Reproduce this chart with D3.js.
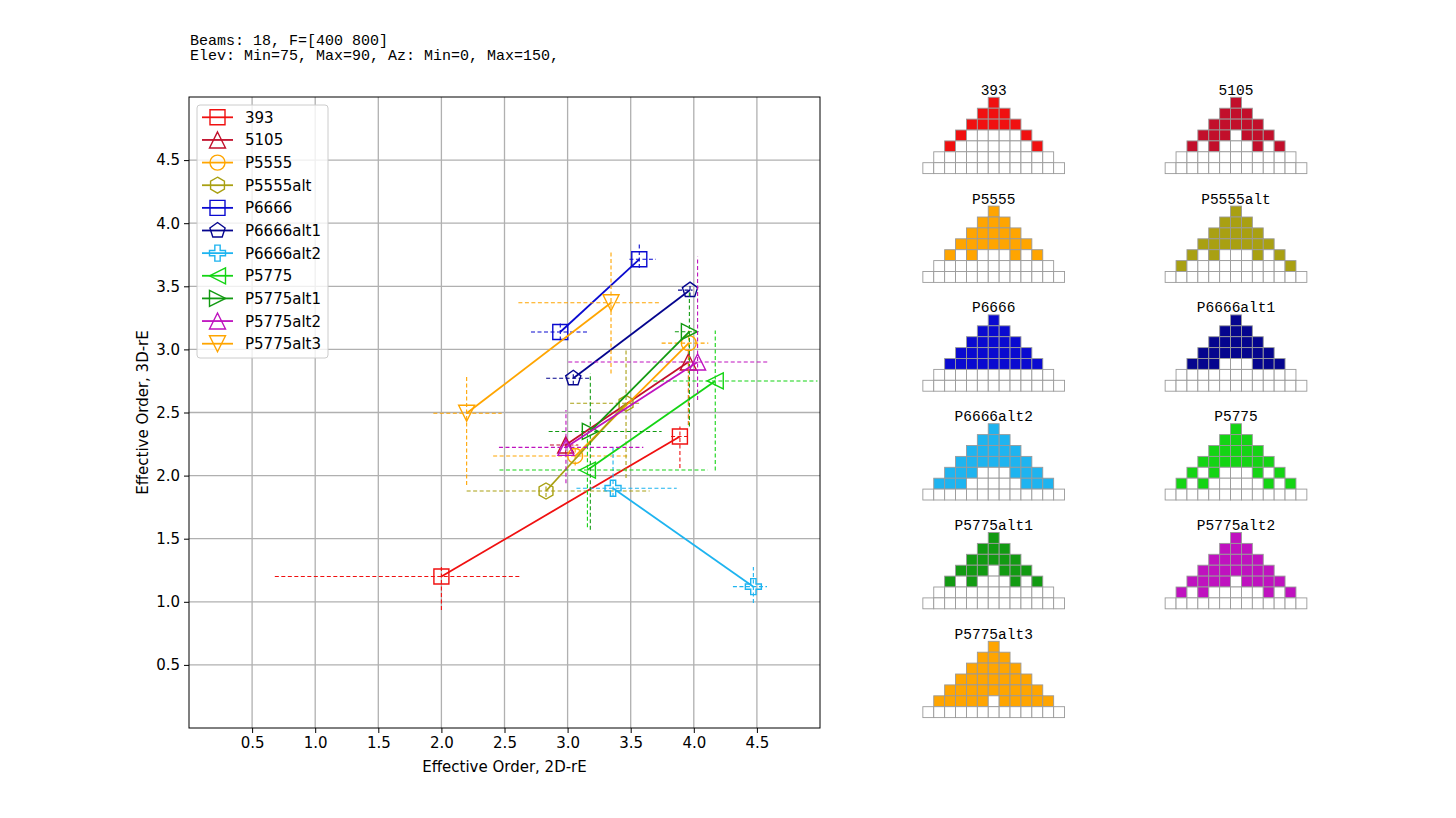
<!DOCTYPE html>
<html>
<head>
<meta charset="utf-8">
<script src="https://cdn.jsdelivr.net/npm/d3@7"></script>
<style>
  body { margin: 0; background: #fff; }
  svg text { font-family: "DejaVu Sans", sans-serif; }
  .mono { font-family: "Liberation Mono", "DejaVu Sans Mono", monospace !important; }
</style>
</head>
<body>
<svg id="chart" width="1456" height="818"></svg>
<script>
// layouts, in legend order
const layouts = ["393", "5105", "P5555", "P5555alt", "P6666", "P6666alt1",
  "P6666alt2", "P5775", "P5775alt1", "P5775alt2", "P5775alt3"];
const markers = ["s", "^", "o", "h", "s", "p", "P", "<", ">", "^", "v"];
const palette = ["#f01010", "#c20f2b", "#ffa500", "#a9a012", "#0a0ad0", "#05058e",
  "#1eb4f0", "#14d414", "#129a12", "#bf12bf", "#ffa500"];

// first point (2D-rE, 3D-rE) and its min/max spread
const order2dA = [2.00, 2.985, 3.06, 2.829, 2.942, 3.045, 3.36, 3.157, 3.18, 2.987, 2.20];
const order3dA = [1.20, 2.243, 2.155, 1.878, 3.138, 2.771, 1.90, 2.044, 2.35, 2.224, 2.494];
const range2dA = [[0.68, 2.63], [2.86, 3.085], [2.41, 3.49], [2.20, 3.65], [2.71, 3.16], [2.83, 3.19],
  [3.07, 3.865], [2.46, 4.11], [2.85, 3.745], [2.456, 3.60], [1.936, 2.478]];
const range3dA = [[0.935, 1.275], [2.17, 2.32], [2.08, 2.24], [1.83, 1.93], [3.07, 3.21], [2.72, 2.82],
  [1.83, 2.23], [1.59, 2.34], [1.57, 2.81], [1.94, 2.52], [1.925, 2.79]];

// second point (2D-rE, 3D-rE) and its min/max spread
const order2dB = [3.89, 3.957, 3.96, 3.463, 3.568, 3.97, 4.472, 4.17, 3.965, 4.03, 3.344];
const order3dB = [2.31, 2.90, 3.05, 2.573, 3.714, 3.47, 1.12, 2.75, 3.14, 2.90, 3.37];
const range2dB = [[3.82, 3.95], [3.90, 4.00], [3.745, 4.115], [3.02, 3.57], [3.49, 3.70], [3.875, 3.99],
  [4.31, 4.58], [3.68, 4.98], [3.85, 4.02], [3.005, 4.59], [2.61, 3.73]];
const range3dB = [[2.06, 2.39], [2.40, 3.00], [2.40, 3.15], [1.98, 3.00], [3.645, 3.85], [3.42, 3.52],
  [0.99, 1.275], [2.04, 3.15], [2.39, 3.45], [2.60, 3.735], [2.81, 3.77]];

const tickValues = [0.5, 1.0, 1.5, 2.0, 2.5, 3.0, 3.5, 4.0, 4.5];

// speaker layout rows (1,3,5,...,13 cells), 1 = filled
const patterns = [
  "1|111|11111|1000001|100000001|00000000000|0000000000000",
  "1|111|11111|1110111|101000101|00000000000|0000000000000",
  "1|111|11111|1111111|101000101|00000000000|0000000000000",
  "1|111|11111|1111111|101000101|10000000001|0000000000000",
  "1|111|11111|1111111|111111111|00000000000|0000000000000",
  "1|111|11111|1111111|111000111|00000000000|0000000000000",
  "1|111|11111|1111111|111000111|11100000111|0000000000000",
  "1|111|11111|1111111|101000101|10100000101|0000000000000",
  "1|111|11111|1110111|101000101|00000000000|0000000000000",
  "1|111|11111|1111111|111101111|10100000101|0000000000000",
  "1|111|11111|1111111|111111111|11111011111|0000000000000"
];

const titleLines = ["Beams: 18, F=[400 800]", "Elev: Min=75, Max=90, Az: Min=0, Max=150,"];

const svg = d3.select("#chart");

svg.selectAll("text.title")
  .data(titleLines)
  .enter()
  .append("text")
  .attr("class", "title mono")
  .attr("x", 190)
  .attr("y", (d, i) => 45 + i * 14.8)
  .style("font-size", "15px")
  .text((d) => d);

const plot = { left: 189, top: 97, size: 631 };
const x = d3.scaleLinear().domain([0, 5]).range([plot.left, plot.left + plot.size]);
const y = d3.scaleLinear().domain([0, 5]).range([plot.top + plot.size, plot.top]);

// grid
const grid = svg.append("g");
grid.selectAll("line.gx")
  .data(tickValues)
  .enter()
  .append("line")
  .attr("x1", (d) => x(d)).attr("x2", (d) => x(d))
  .attr("y1", plot.top).attr("y2", plot.top + plot.size)
  .attr("stroke", "#b0b0b0").attr("stroke-width", 1.3);
grid.selectAll("line.gy")
  .data(tickValues)
  .enter()
  .append("line")
  .attr("y1", (d) => y(d)).attr("y2", (d) => y(d))
  .attr("x1", plot.left).attr("x2", plot.left + plot.size)
  .attr("stroke", "#b0b0b0").attr("stroke-width", 1.3);

const xAxis = svg.append("g")
  .attr("transform", `translate(0,${plot.top + plot.size})`)
  .call(d3.axisBottom(x).tickValues(tickValues).tickFormat(d3.format(".1f")).tickSize(5).tickPadding(4));
const yAxis = svg.append("g")
  .attr("transform", `translate(${plot.left},0)`)
  .call(d3.axisLeft(y).tickValues(tickValues).tickFormat(d3.format(".1f")).tickSize(5).tickPadding(4));
[xAxis, yAxis].forEach((a) => {
  a.select(".domain").remove();
  a.selectAll("text").style("font-size", "15px").attr("fill", "#000");
  a.selectAll("line").attr("stroke", "#000").attr("stroke-width", 1);
});

svg.append("text")
  .attr("x", x(2.5)).attr("y", 772)
  .attr("text-anchor", "middle")
  .style("font-size", "15px")
  .text("Effective Order, 2D-rE");
svg.append("text")
  .attr("transform", `translate(148,${y(2.5)}) rotate(-90)`)
  .attr("text-anchor", "middle")
  .style("font-size", "15px")
  .text("Effective Order, 3D-rE");

function markerPath(type, r) {
  const p = d3.path();
  const poly = (pts) => {
    pts.forEach((q, i) => (i ? p.lineTo(q[0], q[1]) : p.moveTo(q[0], q[1])));
    p.closePath();
  };
  const ngon = (n, start, rad) =>
    d3.range(n).map((k) => {
      const a = start + (k * 2 * Math.PI) / n;
      return [rad * Math.cos(a), rad * Math.sin(a)];
    });
  if (type === "s") poly([[-r, -r], [r, -r], [r, r], [-r, r]]);
  if (type === "^") poly([[0, -r], [r, r], [-r, r]]);
  if (type === "v") poly([[0, r], [r, -r], [-r, -r]]);
  if (type === "<") poly([[-r, 0], [r, -r], [r, r]]);
  if (type === ">") poly([[r, 0], [-r, -r], [-r, r]]);
  if (type === "o") { p.moveTo(r, 0); p.arc(0, 0, r, 0, 2 * Math.PI); p.closePath(); }
  if (type === "h") poly(ngon(6, -Math.PI / 2, r));
  if (type === "p") poly(ngon(5, -Math.PI / 2, r));
  if (type === "P") {
    const w = r / 3;
    poly([[-w, -r], [w, -r], [w, -w], [r, -w], [r, w], [w, w], [w, r], [-w, r],
      [-w, w], [-r, w], [-r, -w], [-w, -w]]);
  }
  return p.toString();
}
const markerSize = { s: 7.5, o: 7.5, h: 8, p: 8, P: 8, "^": 8, v: 8, "<": 8, ">": 8 };

// one group per layout
const series = layouts.map((name, i) => ({
  name: name,
  color: palette[i],
  marker: markers[i],
  pts: [
    { x: order2dA[i], y: order3dA[i], xr: range2dA[i], yr: range3dA[i] },
    { x: order2dB[i], y: order3dB[i], xr: range2dB[i], yr: range3dB[i] }
  ]
}));

const sg = svg.append("g").selectAll("g")
  .data(series)
  .enter()
  .append("g");

sg.each(function (s) {
  const g = d3.select(this);
  g.append("path")
    .attr("d", d3.line().x((d) => x(d.x)).y((d) => y(d.y))(s.pts))
    .attr("fill", "none").attr("stroke", s.color).attr("stroke-width", 1.8);
  s.pts.forEach((d) => {
    g.append("line")
      .attr("x1", x(d.xr[0])).attr("x2", x(d.xr[1]))
      .attr("y1", y(d.y)).attr("y2", y(d.y))
      .attr("stroke", s.color).attr("stroke-width", 1.1).attr("stroke-dasharray", "4,2.5");
    g.append("line")
      .attr("x1", x(d.x)).attr("x2", x(d.x))
      .attr("y1", y(d.yr[0])).attr("y2", y(d.yr[1]))
      .attr("stroke", s.color).attr("stroke-width", 1.1).attr("stroke-dasharray", "4,2.5");
    g.append("path")
      .attr("transform", `translate(${x(d.x)},${y(d.y)})`)
      .attr("d", markerPath(s.marker, markerSize[s.marker]))
      .attr("fill", "none").attr("stroke", s.color).attr("stroke-width", 1.4);
  });
});

// frame
svg.append("rect")
  .attr("x", plot.left).attr("y", plot.top)
  .attr("width", plot.size).attr("height", plot.size)
  .attr("fill", "none").attr("stroke", "#000").attr("stroke-width", 1);

// legend
const legend = svg.append("g");
legend.append("rect")
  .attr("x", 197).attr("y", 105).attr("width", 131).attr("height", 253).attr("rx", 3)
  .attr("fill", "rgba(255,255,255,0.8)").attr("stroke", "#cccccc");
const li = legend.selectAll("g.item")
  .data(series)
  .enter()
  .append("g")
  .attr("transform", (d, i) => `translate(0,${117.3 + i * 22.64})`);
li.append("line")
  .attr("x1", 202).attr("x2", 233)
  .attr("stroke", (d) => d.color).attr("stroke-width", 1.8);
li.append("path")
  .attr("transform", "translate(217.5,0)")
  .attr("d", (d) => markerPath(d.marker, markerSize[d.marker]))
  .attr("fill", "none").attr("stroke", (d) => d.color).attr("stroke-width", 1.4);
li.append("text")
  .attr("x", 245).attr("y", 5.5)
  .style("font-size", "15px")
  .text((d) => d.name);

// layout pictograms
const cell = 10.9;
const panels = svg.append("g").selectAll("g")
  .data(series)
  .enter()
  .append("g")
  .attr("transform", (d, i) => `translate(${i % 2 ? 1236 : 993.7},${97.3 + Math.floor(i / 2) * 108.8})`);

panels.append("text")
  .attr("class", "mono")
  .attr("x", 0).attr("y", -2.5)
  .attr("text-anchor", "middle")
  .style("font-size", "14.5px")
  .text((d) => d.name);

panels.each(function (s, i) {
  const cells = [];
  patterns[i].split("|").forEach((row, r) => {
    row.split("").forEach((v, c) => cells.push({ r: r, c: c - r, on: v === "1" }));
  });
  d3.select(this).selectAll("rect")
    .data(cells)
    .enter()
    .append("rect")
    .attr("x", (d) => (d.c - 0.5) * cell)
    .attr("y", (d) => d.r * cell)
    .attr("width", cell).attr("height", cell)
    .attr("fill", (d) => (d.on ? s.color : "#fff"))
    .attr("stroke", "#9a9a9a").attr("stroke-width", 0.9);
});
</script>
</body>
</html>
